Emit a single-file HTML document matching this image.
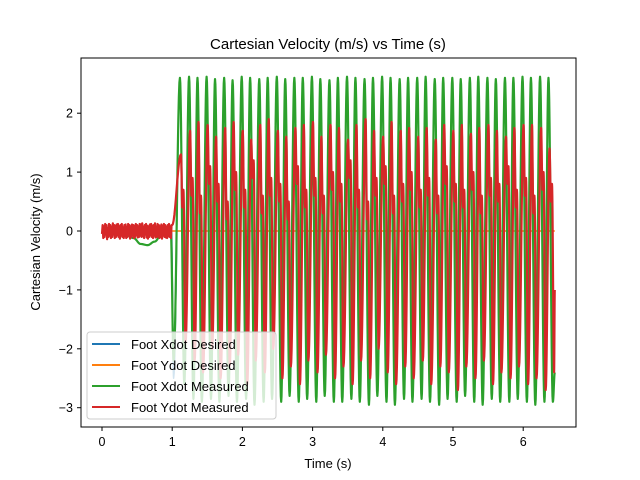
<!DOCTYPE html>
<html><head><meta charset="utf-8"><style>
body{margin:0;background:#fff}
svg{display:block;font-family:"Liberation Sans","DejaVu Sans",sans-serif}
</style></head><body>
<svg id="chart" width="640" height="480">
<rect width="640" height="480" fill="#fff"/>
<g id="plot"></g>
<rect x="81" y="58" width="495" height="369" fill="none" stroke="#000" stroke-width="1"/>
<g id="axes"></g>
<text x="328" y="49" text-anchor="middle" font-size="15">Cartesian Velocity (m/s) vs Time (s)</text>
<text x="328" y="468" text-anchor="middle" font-size="13">Time (s)</text>
<text transform="translate(40,242) rotate(-90)" text-anchor="middle" font-size="13">Cartesian Velocity (m/s)</text>
<g>
<rect x="87" y="332" width="189" height="87" rx="3" fill="#fff" fill-opacity="0.8" stroke="#ccc"/>
<line x1="92" x2="120" y1="344" y2="344" stroke="#1f77b4" stroke-width="2"/>
<text x="131" y="349" font-size="13">Foot Xdot Desired</text>
<line x1="92" x2="120" y1="365" y2="365" stroke="#ff7f0e" stroke-width="2"/>
<text x="131" y="370" font-size="13">Foot Ydot Desired</text>
<line x1="92" x2="120" y1="386" y2="386" stroke="#2ca02c" stroke-width="2"/>
<text x="131" y="391" font-size="13">Foot Xdot Measured</text>
<line x1="92" x2="120" y1="407" y2="407" stroke="#d62728" stroke-width="2"/>
<text x="131" y="412" font-size="13">Foot Ydot Measured</text>
</g>
</svg>
<script>
const xTicks=[0,1,2,3,4,5,6];
const yTicks=[-3,-2,-1,0,1,2];
const peakTimes=[1.11,1.24,1.36,1.49,1.61,1.74,1.86,1.99,2.11,2.24,2.36,2.49,2.61,2.74,2.86,2.99,3.11,3.24,3.36,3.49,3.61,3.74,3.86,3.99,4.11,4.24,4.36,4.49,4.61,4.74,4.86,4.99,5.11,5.24,5.36,5.49,5.61,5.74,5.86,5.99,6.11,6.24,6.36];
const greenPeaks=[2.6,2.62,2.6,2.62,2.58,2.6,2.56,2.62,2.6,2.58,2.6,2.62,2.58,2.6,2.6,2.62,2.58,2.56,2.6,2.62,2.6,2.58,2.6,2.62,2.6,2.58,2.6,2.6,2.62,2.58,2.6,2.6,2.58,2.6,2.62,2.6,2.58,2.6,2.6,2.62,2.6,2.62,2.6];
const greenTroughs=[-2.6,-2.85,-2.9,-2.85,-2.9,-2.8,-2.9,-2.85,-2.95,-2.9,-2.85,-2.9,-2.8,-2.9,-2.85,-2.9,-2.8,-2.9,-2.9,-2.85,-2.9,-2.95,-2.8,-2.9,-2.95,-2.85,-2.9,-2.85,-2.9,-2.95,-2.85,-2.9,-2.8,-2.9,-2.95,-2.85,-2.9,-2.9,-2.85,-2.9,-2.95,-2.9,-2.9];
const redPeaks=[1.3,1.7,1.85,1.8,1.6,1.75,1.85,1.7,1.55,1.8,1.9,1.7,1.6,1.75,1.8,1.85,1.6,1.8,1.75,1.55,1.8,1.9,1.7,1.6,1.85,1.7,1.75,1.6,1.75,1.55,1.8,1.7,1.8,1.65,1.75,1.8,1.7,1.6,1.75,1.8,1.8,1.75,1.4];
const redShoulders=[0.4,0.6,0.3,0.8,0.5,0.2,0.7,0.4,0.9,0.3,0.6,0.5,0.2,0.8,0.4,0.6,0.3,0.7,0.5,0.9,0.4,0.2,0.6,0.8,0.3,0.5,0.7,0.4,0.6,0.3,0.8,0.5,0.4,0.7,0.3,0.6,0.5,0.8,0.4,0.6,0.3,0.7,0.5];
const redTroughs=[-1.9,-2.2,-2.4,-2.0,-2.5,-2.3,-2.1,-2.6,-2.2,-2.4,-2.0,-2.5,-2.3,-2.6,-2.2,-2.4,-2.1,-2.5,-2.3,-2.6,-2.2,-2.5,-2.0,-2.4,-2.6,-2.3,-2.5,-2.2,-2.6,-2.3,-2.4,-2.7,-2.3,-2.5,-2.2,-2.6,-2.4,-2.5,-2.3,-2.6,-2.5,-2.7,-2.4];
const redNoise=[-0.05,0.1,-0.12,0.08,-0.1,0.12,-0.06,0.1,-0.14,0.05,-0.1,0.12,-0.08,0.1,-0.12,0.07,-0.1,0.13,-0.06,0.1,-0.12,0.09,-0.1,0.11,-0.07,0.12,-0.1,0.08,-0.13,0.1,-0.08,0.12,-0.1,0.06,-0.12,0.1,-0.09,0.11,-0.12,0.07,-0.1,0.12,-0.06,0.1,-0.13,0.08,-0.1,0.11,-0.08,0.1,-0.12,0.09,-0.1,0.12,-0.07,0.1,-0.11,0.08,-0.1,0.12,
-0.08,0.11,-0.1,0.13,-0.09,0.07,-0.12,0.1,-0.06,0.12,-0.11,0.09,-0.13,0.08,-0.1,0.11,-0.07,0.12,-0.1,0.09,-0.12,0.1,-0.08,0.13,-0.11,0.07,-0.1,0.12,-0.09,0.1,-0.12,0.08,-0.1,0.11,-0.13,0.09,-0.08,0.12,-0.1,0.1,-0.11,0.07,-0.12,0.1,-0.09,0.12,-0.1,0.08,-0.12,0.1];
const greenDipT=[0,0.3,0.45,0.55,0.65,0.75,0.85,0.98];
const greenDipV=[0,-0.02,-0.12,-0.22,-0.24,-0.18,-0.06,0];
const X=t=>102+t*70.2, Y=v=>231-v*58.9;
const NS='http://www.w3.org/2000/svg';
const plot=document.getElementById('plot'), axes=document.getElementById('axes');
function mk(tag,attrs,parent){const e=document.createElementNS(NS,tag);for(const k in attrs)e.setAttribute(k,attrs[k]);parent.appendChild(e);return e;}
xTicks.forEach(t=>{
  const l=mk('line',{x1:X(t),x2:X(t),y1:427,y2:431,stroke:'#000'},axes);
  
  
  const tx=mk('text',{x:X(t),y:446,'text-anchor':'middle','font-size':'12.5'},axes);tx.textContent=t;
  
  
});
yTicks.forEach(v=>{
  const l=mk('line',{x1:77,x2:81,y1:Y(v),y2:Y(v),stroke:'#000'},axes);
  
  
  const tx=mk('text',{x:73,y:Y(v)+4.5,'text-anchor':'end','font-size':'12.5'},axes);tx.textContent=v<0?'\u2212'+(-v):v;
  
  
});
function smooth(pts){let d='M'+X(pts[0][0])+','+Y(pts[0][1]);
  for(let i=1;i<pts.length;i++){const [t0,v0]=pts[i-1],[t1,v1]=pts[i];
    for(let s=1;s<=12;s++){const f=s/12,w=(1-Math.cos(Math.PI*f))/2;d+=' L'+X(t0+(t1-t0)*f).toFixed(2)+','+Y(v0+(v1-v0)*w).toFixed(2);}}
  return d;}
function series(peaks,troughs,shift,start){const pts=start.slice();
  peakTimes.forEach((t,i)=>{pts.push([t+shift,peaks[i]]);pts.push([t+shift+0.0625,troughs[i]]);});return pts;}
const bluePts=[[0,0],[0.99,0],[1.02,-2.5]].concat(series(greenPeaks.map(v=>v*0.98),greenTroughs.map(v=>v*0.98),0,[]));
let p=mk('path',{d:smooth(bluePts),fill:'none',stroke:'#1f77b4','stroke-width':1.5,'stroke-linejoin':'round'},plot);


p=mk('path',{d:'M'+X(0)+','+Y(0)+' L'+X(6.45)+','+Y(0),fill:'none',stroke:'#ff7f0e','stroke-width':1.5},plot);


const gStart=greenDipT.map((t,i)=>[t,greenDipV[i]]).concat([[1.02,-2.2]]);
p=mk('path',{d:smooth(series(greenPeaks,greenTroughs,0,gStart).concat([[6.45,-2.4]])),fill:'none',stroke:'#2ca02c','stroke-width':2.2,'stroke-linejoin':'round'},plot);


let d='';redNoise.forEach((v,i)=>{d+=(i?' L':'M')+X(i*1.0/redNoise.length).toFixed(2)+','+Y(v).toFixed(2);});
const rpts=[[1.0,0.1]];
peakTimes.forEach((t,i)=>{rpts.push([t+0.015,redPeaks[i]]);rpts.push([t+0.035,redShoulders[i]]);rpts.push([t+0.05,redShoulders[i]+0.3]);rpts.push([t+0.08,redTroughs[i]]);});
rpts.push([6.45,-1.0]);
d+=' '+smooth(rpts).replace('M',' L');
p=mk('path',{d:d,fill:'none',stroke:'#d62728','stroke-width':2.2,'stroke-linejoin':'round'},plot);


</script>
</body></html>
